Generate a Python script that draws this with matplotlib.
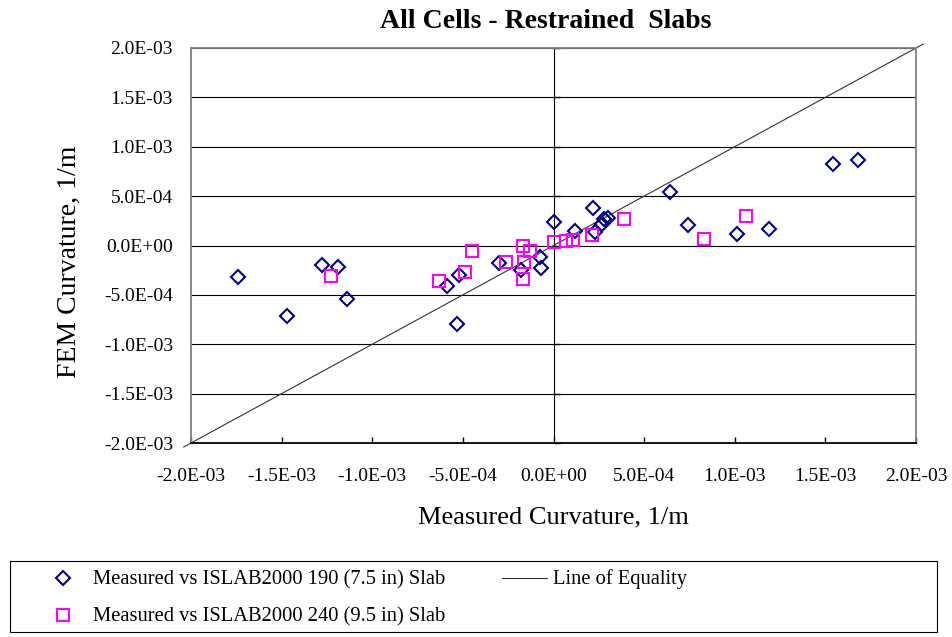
"""
Scatter of FEM vs measured curvature for all restrained slab cells.
"""
import numpy as np
import matplotlib
matplotlib.use("Agg")
import matplotlib.pyplot as plt
from matplotlib.lines import Line2D
from matplotlib.patches import Rectangle
from matplotlib.ticker import FuncFormatter, NullFormatter

plt.rcParams['font.family'] = ['Liberation Serif', 'DejaVu Serif']

# values in 1E-03 1/m
SLAB190_MEAS = [-1.74, -1.47, -1.28, -1.19, -1.14, -0.59, -0.53, -0.52, -0.30,
                -0.18, -0.075, -0.07, 0.00, 0.12, 0.22, 0.23, 0.27, 0.28,
                0.30, 0.64, 0.74, 1.01, 1.19, 1.54, 1.68]
SLAB190_FEM = [-0.32, -0.71, -0.20, -0.22, -0.54, -0.41, -0.79, -0.30, -0.18,
               -0.25, -0.12, -0.23, 0.24, 0.15, 0.38, 0.14, 0.22, 0.27,
               0.28, 0.54, 0.21, 0.12, 0.17, 0.83, 0.87]
SLAB240_MEAS = [-1.23, -0.63, -0.49, -0.45, -0.26, -0.17, -0.13, -0.165, -0.17,
                0.00, 0.07, 0.11, 0.21, 0.39, 0.83, 1.06]
SLAB240_FEM = [-0.31, -0.36, -0.27, -0.06, -0.17, -0.01, -0.06, -0.17, -0.34,
               0.04, 0.05, 0.06, 0.11, 0.27, 0.07, 0.30]
EQUALITY = [-2.04, 2.04]
TICKS = [-2.0, -1.5, -1.0, -0.5, 0.0, 0.5, 1.0, 1.5, 2.0]

NAVY = '#000080'
MAGENTA = '#FF00FF'
GREY = '#808080'

W, H = 952, 637


def fx(px):
    return px / W


def fy(py):
    return 1 - py / H


fig = plt.figure(figsize=(W / 100, H / 100), dpi=100)
ax = fig.add_axes([fx(191), fy(443), (916 - 191) / W, (443 - 48) / H])

scale = 1e-3
ticks = np.array(TICKS) * scale

# line of equality, runs a bit past the plot corners
ax.plot(np.array(EQUALITY) * scale, np.array(EQUALITY) * scale,
        color='#333333', lw=0.8, clip_on=False, zorder=2)
ax.plot(np.array(SLAB190_MEAS) * scale, np.array(SLAB190_FEM) * scale,
        ls='none', marker='D', ms=6.8, mfc='none', mec=NAVY, mew=1.5, zorder=3)
ax.plot(np.array(SLAB240_MEAS) * scale, np.array(SLAB240_FEM) * scale,
        ls='none', marker='s', ms=8.5, mfc='none', mec=MAGENTA, mew=1.5, zorder=3)

ax.set_xlim(ticks[0], ticks[-1])
ax.set_ylim(ticks[0], ticks[-1])
ax.set_xticks(ticks)
ax.set_yticks(ticks)
fmt = FuncFormatter(lambda v, pos: f"{v:.1E}")
ax.xaxis.set_major_formatter(fmt)
ax.yaxis.set_major_formatter(fmt)

ax.grid(axis='y', color='black', lw=0.8)
ax.set_axisbelow(True)

for side in ['left', 'right', 'top']:
    ax.spines[side].set_color(GREY)
    ax.spines[side].set_linewidth(1.3)
ax.spines['bottom'].set_color('black')
ax.spines['bottom'].set_linewidth(1.3)

ax.tick_params(axis='y', length=0, pad=13, labelsize=14)
ax.tick_params(axis='x', direction='in', length=4, width=1, color='black',
               pad=18, labelsize=14)

# value axis crossing at x = 0
sec = ax.secondary_yaxis(0.5)
sec.set_yticks(ticks)
sec.yaxis.set_major_formatter(NullFormatter())
sec.tick_params(direction='out', length=4, width=1, color='black')
sec.spines['left'].set_color(GREY)
sec.spines['left'].set_linewidth(1.3)

ax.set_ylabel('FEM Curvature, 1/m', fontsize=20)
ax.yaxis.set_label_coords(-0.15, 0.46)
ax.set_xlabel('Measured Curvature, 1/m', fontsize=19)
ax.xaxis.set_label_coords(0.5, -0.16)

fig.text(fx(546), fy(21), 'All Cells - Restrained  Slabs', ha='center',
         va='center', fontsize=20, fontweight='bold')

# legend box
fig.add_artist(Rectangle((fx(10), fy(632)), (937 - 10) / W, (632 - 561) / H,
                         transform=fig.transFigure, fill=False,
                         ec='black', lw=0.8))
fig.add_artist(Line2D([fx(63)], [fy(578)], marker='D', ms=6.8, mfc='none',
                      mec=NAVY, mew=1.5, transform=fig.transFigure))
fig.add_artist(Line2D([fx(63)], [fy(615)], marker='s', ms=8.5, mfc='none',
                      mec=MAGENTA, mew=1.5, transform=fig.transFigure))
fig.add_artist(Line2D([fx(502), fx(547)], [fy(578), fy(578)], color='#333333',
                      lw=0.8, transform=fig.transFigure))
fig.text(fx(93), fy(584), 'Measured vs ISLAB2000 190 (7.5 in) Slab',
         va='baseline', fontsize=14.8)
fig.text(fx(93), fy(621), 'Measured vs ISLAB2000 240 (9.5 in) Slab',
         va='baseline', fontsize=14.8)
fig.text(fx(553), fy(584), 'Line of Equality', va='baseline', fontsize=14.8)

fig.savefig('out.png', dpi=100)
